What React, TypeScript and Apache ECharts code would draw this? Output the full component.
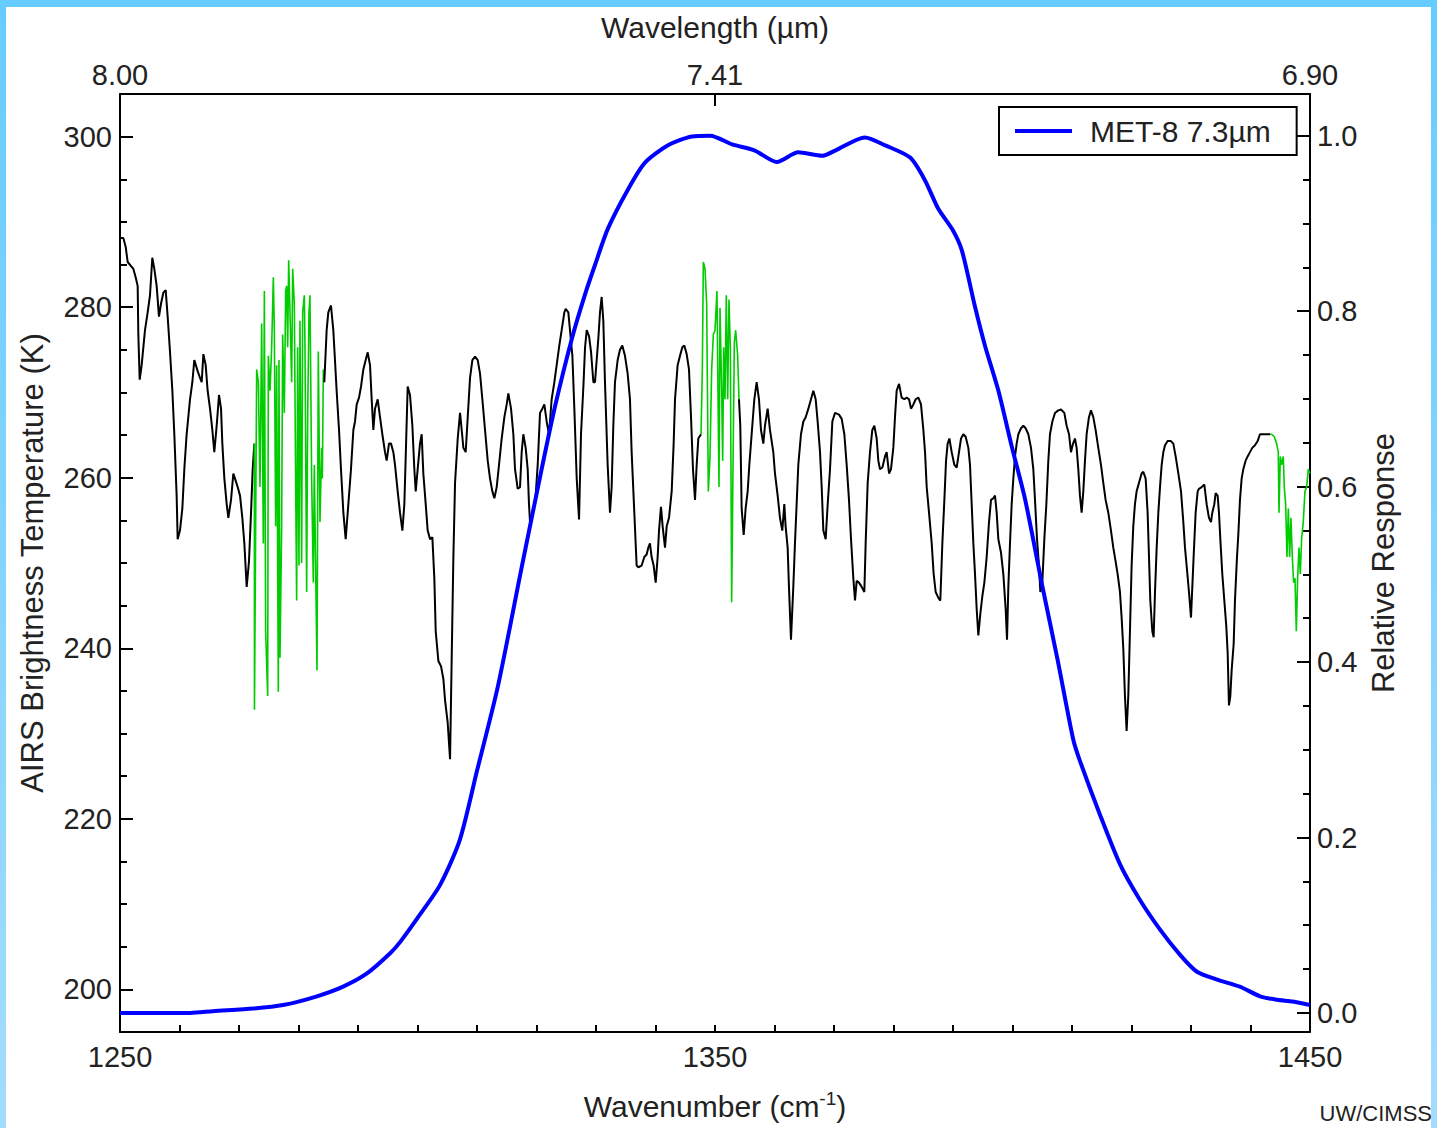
import React, { useEffect, useRef } from "react";
import * as echarts from "echarts";

// ---------- DATA ----------
// AIRS brightness temperature spectrum [wavenumber cm-1, K] — black portions
const airsBlack1: [number, number][] = [
  [1250.0, 288.1], [1250.56, 288.1], [1250.95, 287.1], [1251.29, 285.3], [1252.24, 284.5], [1252.63, 283.5],
  [1252.97, 282.5], [1253.08, 276.8], [1253.31, 271.5], [1253.64, 273.2], [1254.2, 277.3], [1254.65, 279.4],
  [1255.04, 281.4], [1255.43, 285.8], [1255.77, 284.5], [1256.16, 282.5], [1256.55, 278.9], [1256.89, 280.4],
  [1257.28, 281.7], [1257.68, 282.0], [1258.01, 278.9], [1258.4, 274.8], [1258.8, 270.2], [1259.13, 265.1],
  [1259.52, 257.9], [1259.69, 252.8], [1260.08, 253.8], [1260.48, 256.4], [1260.81, 261.0], [1261.2, 265.1],
  [1261.48, 267.1], [1261.77, 269.2], [1262.16, 271.2], [1262.49, 273.8], [1263.05, 272.5], [1263.45, 271.7],
  [1263.73, 271.2], [1264.01, 274.5], [1264.4, 273.2], [1264.73, 270.2], [1265.13, 268.1], [1265.52, 265.6],
  [1265.85, 263.0], [1266.25, 266.1], [1266.64, 269.7], [1266.98, 268.1], [1267.2, 264.0], [1267.54, 259.9],
  [1267.93, 256.9], [1268.21, 255.3], [1268.66, 257.4], [1269.05, 260.5], [1269.33, 259.9], [1269.78, 258.9],
  [1270.17, 257.9], [1270.56, 255.3], [1270.9, 252.3], [1271.29, 247.2], [1271.68, 250.2], [1272.02, 255.9],
  [1272.3, 261.0], [1272.58, 264.0],
];

const airsBlack2: [number, number][] = [
  [1284.34, 271.2], [1284.73, 277.3], [1285.01, 279.4], [1285.46, 280.2], [1285.85, 277.3], [1286.13, 273.8],
  [1286.41, 270.2], [1286.81, 265.6], [1287.14, 261.0], [1287.54, 255.9], [1287.93, 252.8], [1288.38, 256.9],
  [1288.82, 261.0], [1289.22, 265.6], [1289.5, 266.6], [1289.78, 268.6], [1290.17, 269.4], [1290.51, 270.7],
  [1290.9, 272.7], [1291.29, 273.8], [1291.63, 274.7], [1292.02, 273.2], [1292.3, 269.2], [1292.58, 265.6],
  [1292.86, 268.1], [1293.31, 269.2], [1293.7, 267.1], [1294.09, 265.1], [1294.54, 263.0], [1294.82, 262.0],
  [1295.21, 264.0], [1295.55, 264.0], [1295.94, 263.0], [1296.22, 261.5], [1296.67, 258.4], [1297.06, 255.9],
  [1297.46, 253.8], [1297.79, 256.9], [1298.02, 262.5], [1298.35, 270.7], [1298.74, 269.7], [1299.14, 266.1],
  [1299.47, 261.0], [1299.7, 258.4], [1300.03, 261.0], [1300.42, 264.0], [1300.7, 265.1], [1300.98, 260.5],
  [1301.38, 256.9], [1301.71, 253.8], [1302.11, 252.8], [1302.5, 253.0], [1302.83, 248.2], [1303.06, 242.0],
  [1303.51, 238.5], [1303.95, 237.9], [1304.35, 236.4], [1304.63, 233.9], [1305.07, 231.3], [1305.47, 227.0],
  [1305.75, 239.0], [1306.03, 250.7], [1306.31, 259.4], [1306.76, 264.6], [1307.15, 267.6], [1307.43, 265.6],
  [1307.71, 263.5], [1308.1, 263.0], [1308.44, 267.1], [1308.83, 271.7], [1309.22, 273.8], [1309.67, 274.2],
  [1310.12, 273.8], [1310.51, 272.2], [1310.9, 269.2], [1311.35, 265.6], [1311.8, 262.0], [1312.19, 259.9],
  [1312.58, 258.4], [1312.92, 257.6], [1313.31, 258.9], [1313.7, 261.5], [1314.15, 264.6], [1314.6, 267.1],
  [1314.99, 268.6], [1315.27, 269.9], [1315.72, 268.1], [1316.11, 265.1], [1316.39, 261.0], [1316.84, 258.7],
  [1317.23, 258.9], [1317.51, 263.0], [1317.79, 265.1], [1318.18, 263.5], [1318.52, 261.0], [1318.74, 256.9],
  [1318.91, 254.8], [1319.3, 255.9], [1319.64, 256.9], [1319.86, 257.9], [1320.2, 261.5], [1320.59, 267.6],
  [1320.98, 268.1], [1321.32, 268.6], [1321.71, 266.6], [1322.1, 265.1], [1322.55, 269.2], [1323.0, 271.2],
  [1323.39, 273.2], [1323.79, 275.3], [1324.23, 277.3], [1324.68, 279.4], [1324.91, 279.8], [1325.35, 279.4],
  [1325.63, 277.3], [1326.03, 274.3], [1326.36, 268.1], [1326.76, 259.9], [1327.15, 255.1], [1327.48, 265.1],
  [1327.88, 270.7], [1328.16, 275.3], [1328.44, 277.3], [1328.83, 276.6], [1329.16, 274.8], [1329.56, 271.2],
  [1329.83, 271.2], [1330.39, 276.3], [1330.67, 279.4], [1330.95, 281.2], [1331.23, 278.4], [1331.51, 271.2],
  [1331.96, 261.5], [1332.35, 255.9], [1332.63, 258.9], [1332.91, 266.1], [1333.19, 271.2], [1333.64, 273.8],
  [1334.03, 275.0], [1334.42, 275.5], [1334.87, 274.3], [1335.32, 272.2], [1335.71, 269.2], [1335.99, 263.0],
  [1336.44, 255.9], [1336.83, 249.7], [1337.11, 249.5], [1337.67, 249.7], [1338.12, 250.7], [1338.51, 251.0],
  [1338.79, 251.8], [1339.07, 252.3], [1339.35, 250.7], [1339.69, 249.7], [1340.03, 247.7], [1340.36, 250.7],
  [1340.59, 253.8], [1340.92, 256.6], [1341.2, 254.3], [1341.6, 251.8], [1341.88, 254.3], [1342.27, 255.3],
  [1342.72, 258.4], [1343.05, 264.0], [1343.28, 269.2], [1343.72, 273.2], [1344.12, 274.3], [1344.51, 275.3],
  [1344.84, 275.5], [1345.24, 274.5], [1345.63, 272.7], [1345.97, 267.1], [1346.3, 261.0], [1346.64, 257.4],
  [1346.92, 261.5], [1347.2, 264.6], [1347.65, 265.1],
];

const airsBlack3: [number, number][] = [
  [1354.03, 269.2], [1354.25, 266.1], [1354.48, 256.4], [1354.82, 253.3], [1355.15, 256.4], [1355.49, 258.4],
  [1355.77, 261.5], [1356.16, 265.1], [1356.61, 269.2], [1357.0, 271.2], [1357.39, 269.2], [1357.73, 265.6],
  [1358.12, 264.0], [1358.4, 266.1], [1358.85, 268.1], [1359.24, 265.6], [1359.8, 263.0], [1360.08, 260.5],
  [1360.53, 257.9], [1360.92, 255.3], [1361.31, 253.8], [1361.65, 256.9], [1361.87, 254.3], [1362.21, 251.8],
  [1362.43, 247.2], [1362.77, 241.0], [1363.16, 247.2], [1363.44, 252.3], [1363.72, 256.9], [1364.0, 261.5],
  [1364.45, 265.1], [1364.85, 266.6], [1365.24, 267.1], [1365.69, 268.1], [1366.13, 269.2], [1366.53, 270.2],
  [1366.92, 269.2], [1367.25, 266.6], [1367.65, 263.0], [1367.93, 258.9], [1368.21, 253.8], [1368.6, 252.8],
  [1368.94, 256.9], [1369.33, 261.0], [1369.72, 266.6], [1370.17, 267.6], [1370.84, 267.4], [1371.29, 266.9],
  [1371.74, 265.1], [1372.13, 261.5], [1372.52, 257.4], [1372.86, 252.8], [1373.25, 248.2], [1373.53, 245.6],
  [1373.81, 247.9], [1374.2, 247.7], [1374.65, 247.2], [1375.1, 246.6], [1375.32, 252.3], [1375.66, 259.4],
  [1376.05, 263.0], [1376.44, 265.6], [1376.78, 266.1], [1377.17, 264.6], [1377.45, 262.0], [1377.73, 261.0],
  [1378.13, 261.2], [1378.57, 262.5], [1378.85, 263.0], [1379.25, 260.5], [1379.58, 261.0], [1379.97, 263.5],
  [1380.25, 267.1], [1380.53, 270.2], [1380.93, 271.0], [1381.37, 269.4], [1381.82, 269.2], [1382.21, 269.4],
  [1382.61, 269.2], [1382.94, 268.1], [1383.34, 268.6], [1383.73, 269.2], [1384.18, 269.4], [1384.62, 268.6],
  [1385.02, 265.6], [1385.3, 263.0], [1385.58, 258.9], [1385.97, 255.9], [1386.42, 252.3], [1386.75, 248.7],
  [1387.09, 246.6], [1387.54, 245.9], [1387.87, 245.6], [1388.21, 252.3], [1388.55, 257.4], [1388.83, 262.0],
  [1389.1, 264.0], [1389.39, 264.6], [1389.78, 263.0], [1390.23, 261.5], [1390.62, 261.2], [1391.01, 263.0],
  [1391.35, 264.6], [1391.74, 265.1], [1392.13, 264.8], [1392.58, 263.5], [1392.86, 261.5], [1393.14, 256.9],
  [1393.42, 252.3], [1393.7, 248.7], [1393.98, 244.6], [1394.26, 241.5], [1394.6, 244.1], [1394.93, 246.1],
  [1395.27, 247.7], [1395.66, 250.7], [1396.05, 254.8], [1396.39, 257.4], [1396.78, 257.6], [1397.06, 257.9],
  [1397.34, 255.9], [1397.62, 252.8], [1398.07, 251.2], [1398.46, 248.7], [1398.85, 244.6], [1399.08, 241.0],
  [1399.3, 247.2], [1399.58, 252.3], [1399.86, 256.9], [1400.14, 259.9], [1400.42, 262.5], [1400.7, 264.0],
  [1400.98, 265.1], [1401.43, 265.8], [1401.82, 266.1], [1402.21, 265.8], [1402.66, 265.1], [1403.11, 263.5],
  [1403.5, 261.0], [1403.78, 257.4], [1404.12, 252.8], [1404.45, 249.7], [1404.68, 246.6], [1405.01, 247.7],
  [1405.35, 252.8], [1405.69, 256.9], [1406.02, 262.0], [1406.3, 265.1], [1406.7, 266.6], [1407.14, 267.6],
  [1407.7, 267.9], [1408.15, 268.0], [1408.71, 267.6], [1409.1, 266.1], [1409.5, 265.1], [1409.83, 263.0],
  [1410.17, 264.0], [1410.5, 264.6], [1410.78, 263.5], [1411.06, 261.0], [1411.34, 257.9], [1411.62, 255.9],
  [1411.9, 258.4], [1412.18, 262.0], [1412.46, 265.1], [1412.85, 267.1], [1413.19, 267.9], [1413.58, 267.1],
  [1413.97, 265.6], [1414.42, 263.5], [1414.87, 261.5], [1415.26, 259.4], [1415.65, 257.4], [1416.1, 255.9],
  [1416.55, 253.8], [1416.94, 251.8], [1417.33, 250.2], [1417.67, 248.7], [1418.06, 246.6], [1418.34, 243.6],
  [1418.62, 240.0], [1418.9, 234.4], [1419.18, 230.3], [1419.46, 234.4], [1419.74, 242.0], [1420.02, 249.7],
  [1420.3, 254.3], [1420.58, 256.9], [1420.86, 258.4], [1421.26, 259.4], [1421.7, 260.5], [1421.98, 260.7],
  [1422.38, 259.9], [1422.71, 255.9], [1422.94, 250.7], [1423.16, 245.6], [1423.5, 242.0], [1423.72, 241.3],
  [1423.95, 246.6], [1424.23, 251.8], [1424.51, 255.9], [1424.79, 258.9], [1425.07, 261.5], [1425.35, 263.0],
  [1425.63, 263.8], [1426.07, 264.3], [1426.63, 264.3], [1427.03, 264.0], [1427.42, 262.5], [1427.87, 260.5],
  [1428.32, 258.4], [1428.71, 254.8], [1428.99, 251.8], [1429.33, 249.2], [1429.66, 246.6], [1430.0, 243.6],
  [1430.22, 247.2], [1430.44, 250.7], [1430.78, 255.9], [1431.12, 258.4], [1431.34, 258.7], [1431.79, 258.9],
  [1432.24, 259.2], [1432.63, 256.9], [1433.02, 255.3], [1433.36, 254.8], [1433.58, 255.9], [1433.92, 256.9],
  [1434.14, 258.2], [1434.48, 257.9], [1434.7, 255.9], [1434.93, 252.8], [1435.26, 248.7], [1435.6, 245.6],
  [1435.93, 242.6], [1436.16, 239.5], [1436.38, 233.3], [1436.61, 234.4], [1436.83, 237.4], [1437.17, 240.5],
  [1437.39, 245.6], [1437.73, 250.7], [1437.95, 253.3], [1438.23, 257.4], [1438.51, 259.9], [1438.79, 261.0],
  [1439.18, 262.0], [1439.52, 262.5], [1439.91, 263.0], [1440.3, 263.5], [1440.75, 263.8], [1441.2, 264.3],
  [1441.59, 265.1], [1441.98, 265.1], [1443.0, 265.1], [1443.28, 265.1],
];

// AIRS channels drawn in green
const airsGreen1: [number, number][] = [
  [1272.58, 264.0], [1272.6, 232.8], [1272.97, 272.7], [1273.25, 271.2], [1273.53, 258.9], [1273.81, 278.1],
  [1274.09, 252.3], [1274.26, 281.9], [1274.48, 242.0], [1274.82, 234.4], [1274.93, 274.3], [1275.21, 270.2],
  [1275.49, 275.3], [1275.77, 283.5], [1275.94, 277.3], [1276.16, 254.3], [1276.33, 273.2], [1276.61, 234.9],
  [1276.72, 273.8], [1276.89, 238.9], [1277.17, 254.3], [1277.34, 276.8], [1277.62, 267.6], [1277.84, 281.9],
  [1278.01, 282.5], [1278.18, 275.3], [1278.35, 285.5], [1278.57, 279.4], [1278.85, 271.2], [1279.02, 284.5],
  [1279.3, 280.4], [1279.52, 259.4], [1279.69, 245.6], [1279.86, 275.3], [1280.08, 249.7], [1280.25, 278.4],
  [1280.53, 250.0], [1280.7, 279.4], [1280.98, 281.4], [1281.09, 275.3], [1281.37, 246.6], [1281.54, 267.1],
  [1281.76, 279.4], [1281.93, 281.4], [1282.21, 259.9], [1282.49, 247.7], [1282.66, 261.5], [1282.77, 255.3],
  [1283.11, 237.4], [1283.33, 274.8], [1283.61, 254.8], [1283.89, 263.5], [1284.01, 259.9], [1284.17, 272.7],
  [1284.34, 271.2],
];

const airsGreen2: [number, number][] = [
  [1347.65, 265.1], [1347.87, 272.7], [1348.04, 285.3], [1348.32, 284.5], [1348.6, 280.4], [1348.88, 258.4],
  [1349.16, 262.5], [1349.44, 272.7], [1349.72, 276.8], [1350.0, 277.3], [1350.33, 281.9], [1350.67, 258.9],
  [1350.84, 279.9], [1351.12, 270.2], [1351.29, 262.0], [1351.46, 275.3], [1351.68, 269.2], [1351.9, 281.4],
  [1352.13, 269.2], [1352.35, 280.9], [1352.58, 275.3], [1352.8, 245.4], [1353.02, 260.9], [1353.25, 275.8],
  [1353.47, 277.3], [1353.81, 274.3], [1354.03, 269.2],
];

const airsGreen3: [number, number][] = [
  [1443.28, 265.1], [1443.55, 265.1], [1444.0, 264.8], [1444.39, 264.0], [1444.67, 263.0], [1444.79, 255.9],
  [1445.01, 262.5], [1445.23, 261.5], [1445.51, 262.5], [1445.68, 258.9], [1445.91, 256.9], [1446.13, 250.7],
  [1446.36, 256.4], [1446.58, 250.7], [1446.8, 255.3], [1447.03, 250.7], [1447.25, 247.7], [1447.48, 248.2],
  [1447.7, 242.0], [1447.92, 248.2], [1448.15, 251.8], [1448.37, 248.7], [1448.59, 252.8], [1448.87, 254.8],
  [1449.15, 258.4], [1449.43, 258.9], [1449.72, 261.0], [1450.0, 260.5],
];

// MET-8 7.3µm spectral response function [wavenumber cm-1, relative response]
const met8Response: [number, number][] = [
  [1250.0, 0.0], [1261.8, 0.0], [1265.6, 0.002], [1272.4, 0.005], [1277.4, 0.009], [1283.1, 0.019],
  [1287.5, 0.03], [1291.5, 0.045], [1295.4, 0.068], [1297.1, 0.081], [1300.4, 0.112], [1303.8, 0.146],
  [1307.1, 0.197], [1310.0, 0.276], [1313.5, 0.372], [1317.6, 0.511], [1320.9, 0.621], [1323.1, 0.691],
  [1326.0, 0.77], [1328.2, 0.82], [1329.8, 0.852], [1332.0, 0.894], [1335.4, 0.939], [1338.2, 0.969],
  [1342.1, 0.989], [1346.1, 0.999], [1349.2, 1.0], [1352.9, 0.99], [1356.7, 0.983], [1360.4, 0.97],
  [1364.0, 0.981], [1368.0, 0.977], [1370.2, 0.983], [1375.2, 0.998], [1378.6, 0.989], [1382.8, 0.975],
  [1385.3, 0.949], [1387.5, 0.917], [1390.0, 0.892], [1391.5, 0.869], [1393.7, 0.805], [1395.4, 0.76],
  [1397.6, 0.71], [1399.9, 0.645], [1402.1, 0.586], [1405.0, 0.487], [1407.6, 0.402], [1410.2, 0.312],
  [1411.3, 0.288], [1414.7, 0.226], [1418.1, 0.169], [1421.4, 0.129], [1424.8, 0.095], [1428.2, 0.066],
  [1431.0, 0.047], [1434.4, 0.038], [1438.2, 0.03], [1441.6, 0.019], [1444.5, 0.015], [1447.1, 0.013],
  [1450.0, 0.009],
];

const wavenumberLabels = [1250, 1350, 1450];
const wavenumberTicks = [1260, 1270, 1280, 1290, 1300, 1310, 1320, 1330, 1340, 1350, 1360, 1370, 1380, 1390, 1400, 1410, 1420, 1430, 1440];
const tempLabels = [200, 220, 240, 260, 280, 300];
const tempMinorTicks = [200, 205, 210, 215, 220, 225, 230, 235, 240, 245, 250, 255, 260, 265, 270, 275, 280, 285, 290, 295, 300];
const respLabels = [0, 0.2, 0.4, 0.6, 0.8, 1.0];
const respMinorTicks = [0, 0.05, 0.1, 0.15, 0.2, 0.25, 0.3, 0.35, 0.4, 0.45, 0.5, 0.55, 0.6, 0.65, 0.7, 0.75, 0.8, 0.85, 0.9, 0.95, 1.0];
const legendName = "MET-8 7.3µm";

// ---------- CHART ----------
const FONT = "'Liberation Sans', Arial, Helvetica, sans-serif";
const TXT = "#222";
const AXIS_LINE = { show: true, onZero: false, lineStyle: { color: "#000", width: 2 } };
const TICK_STYLE = { color: "#000", width: 2 };
const labelStyle = { fontSize: 29, color: TXT, fontFamily: FONT };

function buildOption(): any {
  const lineSeries = (data: [number, number][], color: string, width: number) => ({
    type: "line",
    xAxisIndex: 0,
    yAxisIndex: 0,
    data,
    symbol: "none",
    showSymbol: false,
    silent: true,
    lineStyle: { color, width },
    itemStyle: { color },
    z: 2,
  });
  return {
    animation: false,
    backgroundColor: "transparent",
    textStyle: { fontFamily: FONT },
    grid: { left: 120, right: 127, top: 94, bottom: 96, containLabel: false },
    legend: {
      data: [legendName],
      left: 999,
      top: 107,
      orient: "horizontal",
      padding: [9, 26, 9, 16],
      borderColor: "#000",
      borderWidth: 2,
      backgroundColor: "#fff",
      icon: "rect",
      itemWidth: 57,
      itemHeight: 4,
      textStyle: { fontSize: 30, color: TXT, fontFamily: FONT, padding: [0, 0, 0, 13] },
      selectedMode: false,
    },
    xAxis: [
      {
        type: "value",
        min: 1250,
        max: 1450,
        position: "bottom",
        axisLine: AXIS_LINE,
        axisTick: { show: true, inside: true, length: 7, customValues: wavenumberTicks, lineStyle: TICK_STYLE },
        axisLabel: { ...labelStyle, customValues: wavenumberLabels, margin: 10, formatter: (v: number) => String(v) },
        splitLine: { show: false },
        name: "{a|Wavenumber (cm}{s|-1}{a|)}",
        nameLocation: "middle",
        nameGap: 57,
        nameTextStyle: {
          rich: {
            a: { fontSize: 30, color: TXT, fontFamily: FONT, lineHeight: 34 },
            s: { fontSize: 19, color: TXT, fontFamily: FONT, verticalAlign: "top", lineHeight: 34, padding: [0, 0, 14, 0] },
          },
        },
      },
      {
        type: "value",
        min: 1250,
        max: 1450,
        position: "top",
        axisLine: AXIS_LINE,
        axisTick: { show: true, inside: true, length: 12, customValues: wavenumberLabels, lineStyle: TICK_STYLE },
        axisLabel: {
          ...labelStyle,
          customValues: wavenumberLabels,
          margin: 5,
          formatter: (v: number) => (10000 / v).toFixed(2),
        },
        splitLine: { show: false },
        name: "Wavelength (µm)",
        nameLocation: "middle",
        nameGap: 52,
        nameTextStyle: { fontSize: 30, color: TXT, fontFamily: FONT },
      },
    ],
    yAxis: [
      {
        type: "value",
        min: 195,
        max: 305,
        position: "left",
        axisLine: AXIS_LINE,
        axisTick: { show: true, inside: true, length: 13, customValues: tempLabels, lineStyle: TICK_STYLE },
        axisLabel: { ...labelStyle, customValues: tempLabels, margin: 8 },
        splitLine: { show: false },
        name: "AIRS Brightness Temperature (K)",
        nameLocation: "middle",
        nameRotate: 90,
        nameGap: 72,
        nameTextStyle: { fontSize: 31, color: TXT, fontFamily: FONT },
      },
      {
        type: "value",
        min: -0.0217,
        max: 1.0475,
        position: "right",
        axisLine: AXIS_LINE,
        axisTick: { show: true, inside: true, length: 13, customValues: respLabels, lineStyle: TICK_STYLE },
        axisLabel: { ...labelStyle, customValues: respLabels, margin: 7, formatter: (v: number) => v.toFixed(1) },
        splitLine: { show: false },
        name: "Relative Response",
        nameLocation: "middle",
        nameRotate: 90,
        nameGap: 58,
        nameTextStyle: { fontSize: 31, color: TXT, fontFamily: FONT },
      },
      {
        type: "value",
        min: 195,
        max: 305,
        position: "left",
        axisLine: { show: false },
        axisTick: { show: true, inside: true, length: 7, customValues: tempMinorTicks, lineStyle: TICK_STYLE },
        axisLabel: { show: false },
        splitLine: { show: false },
      },
      {
        type: "value",
        min: -0.0217,
        max: 1.0475,
        position: "right",
        axisLine: { show: false },
        axisTick: { show: true, inside: true, length: 7, customValues: respMinorTicks, lineStyle: TICK_STYLE },
        axisLabel: { show: false },
        splitLine: { show: false },
      },
    ],
    series: [
      lineSeries(airsBlack1, "#000000", 2),
      lineSeries(airsGreen1, "#00cc00", 1.6),
      lineSeries(airsBlack2, "#000000", 2),
      lineSeries(airsGreen2, "#00cc00", 1.6),
      lineSeries(airsBlack3, "#000000", 2),
      lineSeries(airsGreen3, "#00cc00", 1.6),
      {
        type: "line",
        name: legendName,
        xAxisIndex: 0,
        yAxisIndex: 1,
        data: met8Response,
        symbol: "none",
        showSymbol: false,
        silent: true,
        smooth: 0.25,
        lineStyle: { color: "#0000ff", width: 4 },
        itemStyle: { color: "#0000ff" },
        z: 3,
      },
    ],
    graphic: [
      {
        type: "text",
        x: 1432,
        y: 1113,
        style: { text: "UW/CIMSS", fontSize: 22, fill: TXT, fontFamily: FONT, align: "right", verticalAlign: "middle" },
      },
    ],
  };
}

export default function App() {
  const ref = useRef<HTMLDivElement>(null);
  useEffect(() => {
    document.body.style.margin = "0";
    const chart = echarts.init(ref.current!, null, { renderer: "svg" });
    chart.setOption(buildOption());
    return () => chart.dispose();
  }, []);
  return (
    <div style={{ position: "relative", width: 1437, height: 1128, background: "#fff", overflow: "hidden" }}>
      <div ref={ref} style={{ position: "absolute", left: 0, top: 0, width: 1437, height: 1128 }} />
      <div style={{ position: "absolute", left: 0, top: 0, width: 1437, height: 7, background: "#66ccff" }} />
      <div style={{ position: "absolute", left: 0, top: 0, width: 6, height: 1128, background: "linear-gradient(#66ccff, #a3dcff)" }} />
      <div style={{ position: "absolute", right: 0, top: 0, width: 6, height: 1128, background: "linear-gradient(#66ccff, #a3dcff)" }} />
    </div>
  );
}
